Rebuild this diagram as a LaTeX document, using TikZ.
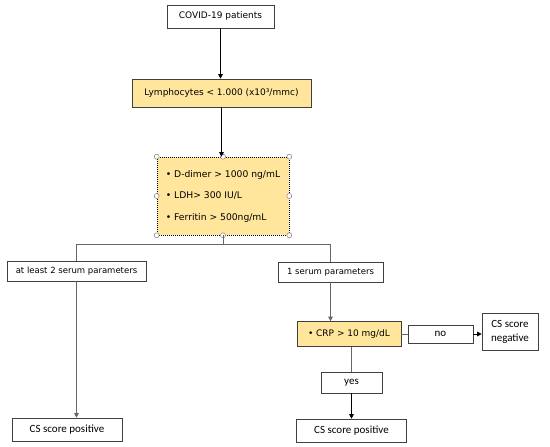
\documentclass[tikz,border=0pt]{standalone}
\usepackage{fontspec}
\setmainfont{DejaVu Sans}
\newfontfamily\calibri{Carlito}
\usetikzlibrary{arrows.meta, positioning}
\definecolor{labfill}{RGB}{255,230,156}
\definecolor{edge}{RGB}{64,64,64}

\begin{document}
\begin{tikzpicture}[x=1pt, y=-1pt,
    every node/.style={font=\fontsize{9}{11}\selectfont, inner sep=0pt},
    box/.style={draw=edge, fill=white, line width=0.6pt},
    hl/.style={box, fill=labfill},
    small/.style={font=\fontsize{8.5}{10}\selectfont},
    cal/.style={font=\calibri\fontsize{11}{12.5}\selectfont},
    handle/.style={circle, draw=gray, fill=white, line width=0.5pt, minimum size=5pt},
    arr/.style={-{Triangle[length=4.5pt, width=4.5pt]}, line width=0.6pt},
    ln/.style={draw=gray!80!black, line width=0.7pt}]
    \useasboundingbox (0,0) rectangle (550,447);

    % Input
    \node[box, minimum width=107pt, minimum height=23pt] (covid) at (220.5,16.5) {COVID-19 patients};
    \node[hl, minimum width=179pt, minimum height=28pt] (lymph) at (221.5,93) {Lymphocytes < 1.000 (x10³/mmc)};

    % Serum parameters
    \node[hl, dash pattern=on 1pt off 1pt, draw=black, minimum width=132pt, minimum height=78pt, align=left,
          font=\fontsize{9.2}{21.5}\selectfont] (serum) at (223,196)
        {\textbullet\ D-dimer > 1000 ng/mL\\ \textbullet\ LDH> 300 IU/L\\ \textbullet\ Ferritin > 500ng/mL};
    \foreach \a in {north west, north, north east, east, south east, south, south west, west}
        \node[handle] at (serum.\a) {};

    % Branches
    \node[box, small, minimum width=139pt, minimum height=20pt] (two) at (76.5,271) {at least 2 serum parameters};
    \node[box, small, minimum width=105pt, minimum height=20pt] (one) at (330.5,272) {1 serum parameters};
    \node[hl, minimum width=104pt, minimum height=25pt] (crp) at (349,334) {\textbullet\ CRP > 10 mg/dL};
    \node[box, cal, minimum width=65pt, minimum height=18pt] (no) at (440.5,334) {no};
    \node[box, cal, minimum width=56pt, minimum height=37pt, align=center] (neg) at (510,332) {CS score\\[1pt]negative};
    \node[box, cal, minimum width=61pt, minimum height=21pt] (yes) at (351.5,382.5) {yes};

    % Output
    \node[box, cal, minimum width=110pt, minimum height=23pt] (posleft) at (67,429.5) {CS score positive};
    \node[box, cal, minimum width=110pt, minimum height=23pt] (posright) at (351.5,430.5) {CS score positive};

    % Arrows
    \draw[arr] (covid) -- (covid |- lymph.north);
    \draw[arr] (lymph) -- (lymph |- serum.north);
    \draw[ln] (serum.south) -- ++(0,9) coordinate (split);
    \draw[ln] (two.north) |- (split) -| (one.north);
    \draw[arr, draw=gray!80!black] (two.south) -- (two.south |- posleft.north);
    \draw[arr, draw=gray!80!black] (one.south) -- (one.south |- crp.north);
    \draw[ln] (crp.east) -- (no.west);
    \draw[arr] (no.east) -- (no.east -| neg.west);
    \draw[ln] (crp.south -| yes.north) -- (yes.north);
    \draw[arr] (yes.south) -- (posright.north);
\end{tikzpicture}
\end{document}
